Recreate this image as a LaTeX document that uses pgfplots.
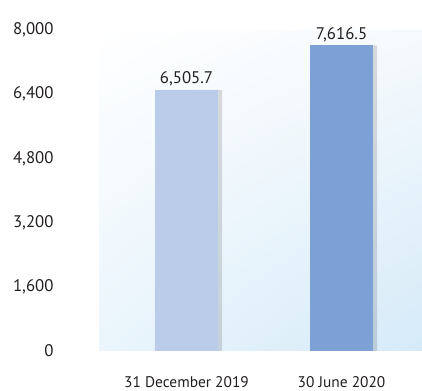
\documentclass[border=0pt]{standalone}
\usepackage{pgfplots}
\pgfplotsset{compat=1.18}
\usetikzlibrary{shadings}
\usepackage{fontspec}
\setmainfont{PT Sans}
\definecolor{barA}{HTML}{BACCE9}
\definecolor{barB}{HTML}{7DA1D4}
\definecolor{txt}{HTML}{231F20}
\definecolor{bgUR}{HTML}{F6FAFD}
\definecolor{bgLL}{HTML}{EAF5FC}
\definecolor{bgLR}{HTML}{D5EAF8}
\begin{document}
\begin{tikzpicture}
\useasboundingbox (-99bp,-40bp) rectangle (323bp,351bp);
\begin{axis}[
  scale only axis,
  width=323bp, height=321bp,
  xmin=-0.5645, xmax=1.519,
  ymin=0, ymax=8000,
  axis line style={draw=none},
  tick style={draw=none},
  axis background/.style={upper left=white, upper right=bgUR, lower left=bgLL, lower right=bgLR},
  ytick={0,1600,3200,4800,6400,8000},
  xtick={0,1},
  xticklabels={31 December 2019, 30 June 2020},
  /pgf/number format/assume math mode=true,
  /pgf/number format/1000 sep={,},
  ticklabel style={text=txt},
  yticklabel style={font=\fontsize{16.8bp}{19bp}\selectfont, anchor=east, xshift=-42bp},
  xticklabel style={font=\fontsize{15.4bp}{17bp}\selectfont, inner sep=0pt, anchor=north, yshift=-21bp},
  ybar, bar width=63bp,
]
\addplot[fill=black, fill opacity=0.13, draw=none, bar shift=4bp] coordinates {(0,6505.7) (1,7616.5)};
\addplot[fill=barA, draw=none, bar shift=0pt,
  nodes near coords,
  nodes near coords style={font=\fontsize{16.8bp}{18bp}\selectfont, text=txt, /pgf/number format/.cd, fixed, fixed zerofill, precision=1, 1000 sep={,}, assume math mode=true}] coordinates {(0,6505.7)};
\addplot[fill=barB, draw=none, bar shift=0pt,
  nodes near coords,
  nodes near coords style={font=\fontsize{16.8bp}{18bp}\selectfont, text=txt, /pgf/number format/.cd, fixed, fixed zerofill, precision=1, 1000 sep={,}, assume math mode=true}] coordinates {(1,7616.5)};
\end{axis}
\end{tikzpicture}
\end{document}
